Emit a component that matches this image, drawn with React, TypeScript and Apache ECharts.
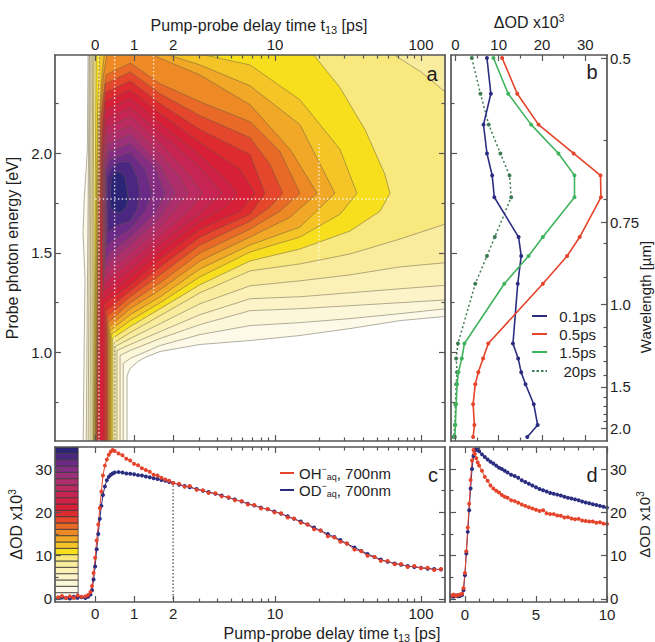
import React, { useEffect, useRef } from "react";
import * as echarts from "echarts";

const FONT = "'Liberation Sans', Arial, Helvetica, sans-serif";
const INK = "#1e1e1e";
const FRAME = "#555555";

// ---------- delay axis: linear up to 2 ps, logarithmic beyond ----------
const LIN_END = 2;
const UNITS_PER_DECADE = 3.744;
const tToU = (t: number) => (t <= LIN_END ? t : LIN_END + UNITS_PER_DECADE * Math.log10(t / LIN_END));
const DELAY_MIN = -1.03;
const DELAY_MAX = 146;
const delayLabelTimes = [0, 1, 2, 10, 100];
const delayMinorTimes = [3, 4, 5, 6, 7, 8, 9, 20, 30, 40, 50, 60, 70, 80, 90];

// ---------- energy / wavelength ----------
const E_MIN = 0.555;
const E_MAX = 2.495;
const HC = 1.23984; // eV*um
const energyLabels = [1.0, 1.5, 2.0];
const energyMinor = [0.75, 1.25, 1.75, 2.25];
const wavelengthLabels = [0.5, 0.75, 1.0, 1.5, 2.0];
const wavelengthMinor = [0.6, 0.7, 0.8, 0.9, 1.1, 1.2, 1.3, 1.4, 1.6, 1.7, 1.8, 1.9];

// ---------- ΔOD ticks ----------
const odLabels = [0, 10, 20, 30];
const odMinor = [5, 15, 25];
const dDelayLabels = [0, 5, 10];
const dDelayMinor = [1, 2, 3, 4, 6, 7, 8, 9];

// ---------- contour levels (ΔOD x10^3, band lower edges) & colours ----------
const colorbarLevels = [0, 1.46, 2.93, 4.39, 5.85, 7.31, 8.78, 10.24, 11.7, 13.16, 14.63, 16.09, 17.55, 19.01, 20.48, 21.94, 23.4, 24.86, 26.33, 27.79, 29.25, 30.71, 32.18, 33.64];
const BAND = 1.46;
const levelColors = [
  "#fffdf3", "#fefaea", "#fdf7da", "#fcf3c8", "#fbf0b5", "#faec9e", "#f9e87e", "#f8df1e",
  "#f5c427", "#f1a826", "#ed8a26", "#e96a27", "#e4472b", "#de2b30", "#d72038", "#cf2145",
  "#c62452", "#bb2a60", "#ae2e6c", "#9b2f78", "#852d82", "#6a2a86", "#4c2782", "#2c2476",
];

// contour outlines (delay ps, energy eV) for levels 1..23
const contourBands: number[][] = [
  [-0.31,0.5, -0.28,1.05, -0.26,1.37, -0.31,1.6, -0.28,1.77, -0.2,2.02, -0.18,2.55, 200,2.55, 200,1.19, 71.8,1.16, 32.6,1.12, 14.8,1.085, 6.74,1.06, 3.06,1.04, 1.67,1.005, 1.28,0.975, 1.1,0.955, 0.9,0.92, 0.82,0.885, 0.82,0.5],
  [-0.23,0.5, -0.18,1.77, -0.15,2.55, 200,2.55, 200,1.23, 71.8,1.195, 32.6,1.17, 14.8,1.15, 6.74,1.135, 3.06,1.09, 1.67,1.035, 0.9,0.97, 0.72,0.945, 0.72,0.5],
  [-0.18,0.5, -0.15,1.77, -0.13,2.55, 200,2.55, 200,1.27, 71.8,1.25, 32.6,1.235, 14.8,1.22, 6.74,1.21, 3.06,1.14, 1.67,1.07, 0.9,1.01, 0.64,0.985, 0.64,0.5],
  [-0.13,0.5, -0.115,1.77, -0.1,2.55, 200,2.55, 200,1.345, 71.8,1.32, 32.6,1.3, 14.8,1.28, 6.74,1.27, 3.06,1.19, 1.67,1.105, 0.9,1.04, 0.56,1.01, 0.56,0.5],
  [-0.08,0.5, -0.08,1.77, -0.06,2.55, 200,2.55, 200,1.46, 71.8,1.43, 32.6,1.39, 14.8,1.36, 6.74,1.335, 3.06,1.245, 1.67,1.145, 0.9,1.07, 0.51,1.03, 0.51,0.5],
  [-0.05,0.5, -0.05,1.77, -0.03,2.55, 64,2.5, 100,2.41, 146,2.31, 200,2.27, 200,1.645, 146,1.645, 71.8,1.57, 32.6,1.495, 14.8,1.445, 6.74,1.41, 3.06,1.3, 1.67,1.185, 0.9,1.1, 0.49,1.05, 0.49,0.5],
  [-0.04,0.5, 0,1.77, 0.03,2.55, 18.2,2.5, 27.9,2.33, 41.3,2.12, 56.6,1.895, 61.3,1.8, 52.4,1.71, 32.6,1.61, 14.8,1.52, 6.74,1.46, 3.06,1.34, 1.67,1.22, 0.9,1.13, 0.44,1.07, 0.44,0.5],
  [-0.03,0.5, 0.03,1.77, 0.06,2.2, 0.13,2.55, 3.06,2.5, 6.74,2.445, 14.8,2.27, 27.9,2.02, 36.4,1.8, 27.9,1.695, 14.8,1.58, 6.74,1.505, 3.06,1.38, 1.67,1.25, 0.9,1.16, 0.41,1.09, 0.41,0.5],
  [-0.013,0.5, 0.05,1.77, 0.09,2.17, 0.18,2.4, 0.26,2.55, 1.8,2.5, 3.06,2.445, 6.74,2.34, 14.8,2.145, 25.7,1.8, 14.8,1.63, 6.74,1.54, 3.06,1.42, 1.67,1.28, 0.9,1.19, 0.385,1.11, 0.385,0.5],
  [0,0.5, 0.08,1.77, 0.11,2.17, 0.22,2.4, 0.35,2.55, 1.41,2.5, 3.06,2.395, 6.74,2.245, 12.7,2.02, 19.4,1.8, 12.7,1.68, 6.74,1.58, 3.06,1.46, 1.67,1.315, 0.9,1.22, 0.36,1.13, 0.36,0.5],
  [0.013,0.5, 0.09,1.77, 0.13,2.17, 0.28,2.395, 0.9,2.455, 1.67,2.35, 3.06,2.26, 6.74,2.16, 10.8,2.01, 14.8,1.8, 10.8,1.71, 6.74,1.62, 3.06,1.5, 1.67,1.35, 0.9,1.25, 0.33,1.15, 0.33,0.5],
  [0.03,0.5, 0.1,1.77, 0.15,2.17, 0.26,2.35, 0.9,2.41, 1.67,2.3, 3.06,2.19, 6.74,2.08, 9.24,1.945, 11.3,1.8, 9.24,1.73, 6.74,1.66, 3.06,1.54, 1.67,1.39, 0.9,1.28, 0.31,1.18, 0.31,0.5],
  [0.05,0.5, 0.13,1.77, 0.18,2.12, 0.26,2.305, 0.9,2.365, 1.67,2.25, 3.06,2.12, 6.74,1.995, 8.53,1.8, 6.74,1.695, 3.06,1.58, 1.67,1.43, 0.9,1.31, 0.28,1.21, 0.28,0.5],
  [0.1,0.5, 0.15,1.77, 0.18,2.07, 0.25,2.26, 0.9,2.32, 1.67,2.2, 3.06,2.055, 5.75,1.92, 7.29,1.8, 5.75,1.71, 3.06,1.62, 1.67,1.47, 0.9,1.34, 0.23,1.245, 0.23,0.5],
  [0.2,1.27, 0.18,1.77, 0.18,2.02, 0.25,2.215, 0.9,2.275, 1.67,2.15, 3.06,1.99, 4.54,1.87, 5.48,1.8, 4.54,1.73, 3.06,1.66, 1.67,1.51, 0.9,1.38, 0.385,1.3],
  [0.21,1.31, 0.19,1.77, 0.2,2.0, 0.28,2.17, 0.9,2.23, 1.67,2.1, 3.06,1.93, 4.33,1.8, 3.06,1.7, 1.67,1.55, 0.9,1.42, 0.385,1.34],
  [0.22,1.34, 0.2,1.77, 0.21,1.98, 0.3,2.13, 0.9,2.185, 1.67,2.05, 2.61,1.885, 3.16,1.8, 2.61,1.72, 1.67,1.59, 0.9,1.46, 0.385,1.38],
  [0.24,1.38, 0.22,1.77, 0.23,1.96, 0.32,2.09, 0.9,2.14, 1.67,1.995, 2.23,1.88, 2.53,1.8, 2.07,1.72, 1.67,1.63, 0.9,1.5, 0.385,1.42],
  [0.25,1.42, 0.23,1.77, 0.24,1.94, 0.34,2.05, 0.9,2.095, 1.67,1.94, 2.07,1.8, 1.67,1.68, 0.9,1.54, 0.385,1.46],
  [0.27,1.47, 0.26,1.77, 0.26,1.92, 0.36,2.01, 0.9,2.05, 1.54,1.93, 1.8,1.8, 1.54,1.7, 0.9,1.58, 0.385,1.5],
  [0.29,1.53, 0.28,1.77, 0.28,1.9, 0.38,1.97, 0.9,2.005, 1.28,1.92, 1.46,1.8, 1.28,1.71, 0.9,1.62, 0.44,1.56],
  [0.33,1.6, 0.31,1.77, 0.31,1.88, 0.42,1.93, 0.64,1.96, 0.9,1.955, 1.08,1.88, 1.15,1.8, 1.08,1.72, 0.9,1.66, 0.51,1.635],
  [0.385,1.77, 0.41,1.87, 0.49,1.905, 0.64,1.91, 0.77,1.88, 0.82,1.82, 0.85,1.77, 0.8,1.73, 0.64,1.7, 0.46,1.71, 0.385,1.74],
];

// marked delays (ps) with the energy span where their guide is visible, and the 700 nm guide
const markedDelays = [0.1, 0.5, 1.5, 20];
const markedDelayLow = [0.555, 0.555, 1.3, 1.45];
const markedDelayHigh = [2.495, 2.495, 2.495, 2.06];
const markedEnergy = 1.771;
const markedEnergyEnd = 61;

// ---------- panel b: transient spectra ----------
const specEnergy = [2.48, 2.3, 2.145, 2.0, 1.89, 1.78, 1.58, 1.485, 1.345, 1.045, 0.97, 0.9, 0.84, 0.74, 0.635, 0.575];
const spec01ps = [7.3, 8.2, 6.5, 7.3, 8.5, 9.0, 14.6, 15.2, 14.4, 13.3, 14.5, 15.2, 16.2, 18.1, 19.0, 16.6];
const spec05ps = [10.8, 14.3, 19.2, 27.3, 33.5, 33.6, 28.7, 25.8, 20.2, 7.6, 6.4, 5.3, 4.6, 4.1, 4.4, 4.1];
const spec15ps = [8.8, 12.2, 17.5, 23.8, 27.5, 27.5, 20.2, 16.9, 11.3, 2.1, 1.5, 0.7, 0.4, 0.2, 0.0, -0.1];
const spec20ps = [3.8, 5.8, 7.7, 10.4, 12.5, 12.9, 9.1, 7.3, 4.6, 0.6, 0.2, 0.4, 0.2, 0.0, -0.1, -0.4];
const specNames = ["0.1ps", "0.5ps", "1.5ps", "20ps"];

// ---------- panel c: kinetics at 700 nm ----------
const cTimes = [-0.95,-0.85,-0.75,-0.65,-0.55,-0.45,-0.35,-0.25,-0.18,-0.12, -0.08,-0.04,0,0.04,0.08,0.12,0.16,0.2,0.25,0.3,0.35,0.4,0.45,0.5, 0.6,0.7,0.8,0.9,1.0,1.1,1.2,1.3,1.4,1.5,1.6,1.7,1.8,1.9,2.0, 2.2,2.4,2.6,2.9,3.2,3.5,3.9,4.3,4.8,5.3,5.9,6.5,7.2,8.0,8.9,9.9,11,12.2,13.5,15,16.7,18.5,20.5,23,25.5,28,31,35,39,43,48,53,59,66,73,81,90,100,111,123,137];
const cOH = [0.4,0.7,0.2,0.6,0.3,0.8,0.5,0.6,0.9,1.6, 3.0,6.0,9.5,13.5,17.2,21.0,24.8,28.5,30.8,32.2,33.3,34.0,34.4,34.2, 33.6,33.2,32.4,32.0,31.2,30.9,30.2,29.8,29.4,28.7,28.5,28.0,27.6,27.3,26.8, 26.6,25.9,26.1,25.2,25.1,24.5,24.4,23.7,23.5,22.8,22.6,21.8,21.7,20.9,20.8,20.0,19.8,18.8,18.6,17.6,17.2,16.1,15.8,14.5,14.2,13.2,12.8,11.4,11.0,10.0,9.7,8.8,8.8,8.0,8.1,7.4,7.6,7.1,7.2,6.7,6.9];
const cOD = [0.2,0.4,0.3,0.1,0.5,0.3,0.4,0.2,0.5,1.0, 2.0,4.5,7.5,11.5,15.0,18.5,21.5,24.0,26.0,27.4,28.2,28.7,29.0,29.2, 29.3,29.2,29.0,28.9,28.8,28.6,28.5,28.3,28.1,27.9,27.7,27.5,27.3,27.0,26.8, 26.4,26.1,25.8,25.4,25.0,24.7,24.3,23.9,23.4,23.0,22.5,22.0,21.6,21.1,20.7,20.2,19.7,19.1,18.5,17.9,17.2,16.5,15.8,15.0,14.3,13.6,12.8,11.9,11.1,10.4,9.7,9.1,8.6,8.2,7.9,7.6,7.4,7.2,7.0,6.9,6.8];
const markedDelayC = 2;
const markedValueC = 26.3;

// ---------- panel d: early kinetics ----------
const dTimes = [-0.95,-0.8,-0.65,-0.5,-0.35,-0.2,-0.1,0,0.1,0.2,0.3,0.4,0.5,0.6,0.7,0.8,0.9,1.0, 1.2,1.4,1.6,1.8,2.0,2.2,2.4,2.6,2.8,3.0, 3.25,3.5,3.75,4.0,4.25,4.5,4.75,5.0,5.25,5.5,5.75,6.0,6.25,6.5,6.75,7.0,7.25,7.5,7.75,8.0,8.25,8.5,8.75,9.0,9.25,9.5,9.75,10.0];
const dOH = [0.8,1.0,0.7,0.9,1.0,1.2,2.5,6.0,11.0,16.5,22.0,27.5,32.0,34.4,33.5,32.5,31.5,30.8, 29.6,28.2,27.3,26.2,25.5,25.0,24.6,24.0,23.6,23.4, 22.8,22.6,22.2,21.8,21.5,21.2,20.9,20.6,20.3,20.5,19.8,19.6,19.6,19.3,19.2,18.8,18.9,18.6,18.4,18.5,18.1,18.0,17.9,17.9,17.6,17.7,17.4,17.3];
const dOD = [0.6,0.5,0.8,0.6,0.7,0.9,2.0,5.5,10.5,15.5,20.5,25.5,30.0,33.0,34.4,34.6,34.4,34.1, 33.4,32.8,32.2,31.7,31.3,30.8,30.3,30.0,29.6,29.2, 28.7,28.4,28.0,27.4,27.0,26.6,26.2,25.8,25.4,25.1,24.8,24.5,24.3,24.1,23.9,23.6,23.4,23.2,23.0,22.8,22.5,22.3,22.1,21.9,21.7,21.5,21.3,21.1];

const RED = "#e5432a";
const NAVY = "#2b2d80";
const GREEN = "#3fb35c";
const DKGREEN = "#3d7c52";
const specColors = [NAVY, RED, GREEN, DKGREEN];

// ---------- layout ----------
const G_A = { left: 55, top: 55, width: 390, height: 386 };
const G_B = { left: 451, top: 55, width: 156, height: 386 };
const G_C = { left: 55, top: 447, width: 390, height: 155 };
const G_D = { left: 450, top: 447, width: 157, height: 155 };

const U_MIN = tToU(DELAY_MIN);
const U_MAX = tToU(DELAY_MAX);
const delayMajorU = delayLabelTimes.map(tToU);
const delayMinorU = delayMinorTimes.map(tToU);
const delayFmt = (v: number) => {
  const t = delayLabelTimes.find((x) => Math.abs(tToU(x) - v) < 1e-6);
  return t === undefined ? "" : String(t);
};
const wlMajorE = wavelengthLabels.map((l) => HC / l);
const wlMinorE = wavelengthMinor.map((l) => HC / l);
const wlFmt = (v: number) => {
  const lam = HC / v;
  const l = wavelengthLabels.find((x) => Math.abs(x - lam) < 1e-3);
  if (l === undefined) return "";
  return l === 0.75 ? "0.75" : l.toFixed(1);
};

const supRich = {
  p: { fontSize: 10, fontFamily: FONT, color: INK, verticalAlign: "top", lineHeight: 18 },
  s: { fontSize: 11, fontFamily: FONT, color: INK, verticalAlign: "bottom", lineHeight: 20 },
};

type AxOpt = {
  grid: number; pos: string; min: number; max: number; ticks: number[]; len: number;
  labels?: number[]; fmt?: (v: number) => string; line?: boolean;
  name?: string; gap?: number; margin?: number; nameSize?: number;
};
function axis(o: AxOpt) {
  const vertical = o.pos === "left" || o.pos === "right";
  return {
    type: "value",
    gridIndex: o.grid,
    position: o.pos,
    min: o.min,
    max: o.max,
    z: 5,
    splitLine: { show: false },
    axisLine: { show: o.line !== false, onZero: false, lineStyle: { color: FRAME, width: 1.7 } },
    axisTick: { show: true, inside: true, length: o.len, customValues: o.ticks, lineStyle: { color: FRAME, width: 1.2 } },
    axisLabel: o.labels
      ? { show: true, customValues: o.labels, formatter: o.fmt, color: INK, fontSize: 15, fontFamily: FONT, margin: o.margin ?? 3 }
      : { show: false },
    name: o.name,
    nameLocation: "middle",
    nameGap: o.gap,
    nameRotate: vertical ? 90 : 0,
    nameTextStyle: { fontSize: o.nameSize ?? 16, fontFamily: FONT, color: INK, rich: supRich },
  };
}

function buildOption() {
  const xAxis = [
    axis({ grid: 0, pos: "top", min: U_MIN, max: U_MAX, ticks: delayMajorU, len: 6, labels: delayMajorU, fmt: delayFmt }),
    axis({ grid: 0, pos: "bottom", min: U_MIN, max: U_MAX, ticks: delayMajorU, len: 6 }),
    axis({ grid: 1, pos: "top", min: -1, max: 35, ticks: odLabels, len: 6, labels: odLabels, fmt: (v) => String(v), name: "ΔOD x10{p|3}", gap: 24 }),
    axis({ grid: 1, pos: "bottom", min: -1, max: 35, ticks: odLabels, len: 6 }),
    axis({ grid: 2, pos: "top", min: U_MIN, max: U_MAX, ticks: delayMajorU, len: 6 }),
    axis({ grid: 2, pos: "bottom", min: U_MIN, max: U_MAX, ticks: delayMajorU, len: 6, labels: delayMajorU, fmt: delayFmt, margin: 4 }),
    axis({ grid: 3, pos: "top", min: -1.05, max: 10, ticks: dDelayLabels, len: 6 }),
    axis({ grid: 3, pos: "bottom", min: -1.05, max: 10, ticks: dDelayLabels, len: 6, labels: dDelayLabels, fmt: (v) => String(v), margin: 5 }),
    axis({ grid: 4, pos: "top", min: U_MIN, max: U_MAX, ticks: delayMinorU, len: 3.5, line: false }),
    axis({ grid: 4, pos: "bottom", min: U_MIN, max: U_MAX, ticks: delayMinorU, len: 3.5, line: false }),
    axis({ grid: 5, pos: "top", min: -1, max: 35, ticks: odMinor, len: 3.5, line: false }),
    axis({ grid: 5, pos: "bottom", min: -1, max: 35, ticks: odMinor, len: 3.5, line: false }),
    axis({ grid: 6, pos: "top", min: U_MIN, max: U_MAX, ticks: delayMinorU, len: 3.5, line: false }),
    axis({ grid: 6, pos: "bottom", min: U_MIN, max: U_MAX, ticks: delayMinorU, len: 3.5, line: false }),
    axis({ grid: 7, pos: "top", min: -1.05, max: 10, ticks: dDelayMinor, len: 3.5, line: false }),
    axis({ grid: 7, pos: "bottom", min: -1.05, max: 10, ticks: dDelayMinor, len: 3.5, line: false }),
  ];
  const yAxis = [
    axis({ grid: 0, pos: "left", min: E_MIN, max: E_MAX, ticks: energyLabels, len: 6, labels: energyLabels, fmt: (v) => v.toFixed(1), name: "Probe photon energy [eV]", gap: 24 }),
    axis({ grid: 0, pos: "right", min: E_MIN, max: E_MAX, ticks: energyLabels, len: 6 }),
    axis({ grid: 1, pos: "left", min: E_MIN, max: E_MAX, ticks: energyLabels, len: 6 }),
    axis({ grid: 1, pos: "right", min: E_MIN, max: E_MAX, ticks: wlMajorE, len: 6, labels: wlMajorE, fmt: wlFmt }),
    axis({ grid: 2, pos: "left", min: -0.7, max: 35.1, ticks: odLabels, len: 6, labels: odLabels, fmt: (v) => String(v), name: "ΔOD x10{p|3}", gap: 24 }),
    axis({ grid: 2, pos: "right", min: -0.7, max: 35.1, ticks: odLabels, len: 6 }),
    axis({ grid: 3, pos: "left", min: -0.7, max: 35.1, ticks: odLabels, len: 6 }),
    axis({ grid: 3, pos: "right", min: -0.7, max: 35.1, ticks: odLabels, len: 6, labels: odLabels, fmt: (v) => String(v), name: "ΔOD x10{p|3}", gap: 28, nameSize: 15 }),
    axis({ grid: 4, pos: "left", min: E_MIN, max: E_MAX, ticks: energyMinor, len: 3.5, line: false }),
    axis({ grid: 4, pos: "right", min: E_MIN, max: E_MAX, ticks: energyMinor, len: 3.5, line: false }),
    axis({ grid: 5, pos: "left", min: E_MIN, max: E_MAX, ticks: energyMinor, len: 3.5, line: false }),
    axis({ grid: 5, pos: "right", min: E_MIN, max: E_MAX, ticks: wlMinorE, len: 3.5, line: false }),
    axis({ grid: 6, pos: "left", min: -0.7, max: 35.1, ticks: odMinor, len: 3.5, line: false }),
    axis({ grid: 6, pos: "right", min: -0.7, max: 35.1, ticks: odMinor, len: 3.5, line: false }),
    axis({ grid: 7, pos: "left", min: -0.7, max: 35.1, ticks: odMinor, len: 3.5, line: false }),
    axis({ grid: 7, pos: "right", min: -0.7, max: 35.1, ticks: odMinor, len: 3.5, line: false }),
  ];

  const grid = [G_A, G_B, G_C, G_D, G_A, G_B, G_C, G_D].map((g) => ({ ...g, containLabel: false, outerBoundsMode: "none", show: false }));

  const dotted = [1.4, 2.4];
  const guideStyle = { color: "rgba(255,255,255,0.85)", width: 1.4, type: dotted };
  const specData = [spec01ps, spec05ps, spec15ps, spec20ps];
  const series: any[] = [
    {
      type: "custom",
      name: "contours",
      xAxisIndex: 0,
      yAxisIndex: 0,
      clip: true,
      silent: true,
      z: 1,
      data: contourBands.map((_, i) => [0, 1.5, i]),
      renderItem: (_p: any, api: any) => {
        const i = api.value(2) as number;
        const pts = contourBands[i];
        const points: number[][] = [];
        for (let k = 0; k < pts.length; k += 2) points.push(api.coord([tToU(pts[k]), pts[k + 1]]));
        return {
          type: "polygon",
          shape: { points },
          style: { fill: levelColors[i + 1], stroke: "rgba(95,88,70,0.6)", lineWidth: 0.8 },
        };
      },
    },
    ...markedDelays.map((t, i) => ({
      type: "line", xAxisIndex: 0, yAxisIndex: 0, symbol: "none", silent: true, z: 3,
      data: [[tToU(t), markedDelayLow[i]], [tToU(t), markedDelayHigh[i]]],
      lineStyle: guideStyle,
    })),
    {
      type: "line", xAxisIndex: 0, yAxisIndex: 0, symbol: "none", silent: true, z: 3,
      data: [[tToU(0), markedEnergy], [tToU(markedEnergyEnd), markedEnergy]],
      lineStyle: guideStyle,
    },
    // panel b (drawn 20ps, 0.1ps, 1.5ps, 0.5ps)
    ...[3, 0, 2, 1].map((k) => ({
      name: specNames[k], type: "line", xAxisIndex: 2, yAxisIndex: 2, color: specColors[k],
      symbol: "circle", symbolSize: 4,
      data: specData[k].map((v, i) => [v, specEnergy[i]]),
      lineStyle: k === 3 ? { width: 1.5, type: [2, 2.5] } : { width: 1.6 },
    })),
    // panel c colour bar
    {
      type: "custom", xAxisIndex: 5, yAxisIndex: 4, clip: true, silent: true, z: 3,
      data: colorbarLevels.map((lv, i) => [-1, lv, i]),
      renderItem: (_p: any, api: any) => {
        const i = api.value(2) as number;
        const lo = colorbarLevels[i];
        const a = api.coord([tToU(-1.05), lo + BAND]);
        const b = api.coord([tToU(-0.436), lo]);
        return {
          type: "rect",
          shape: { x: a[0], y: a[1], width: b[0] - a[0], height: b[1] - a[1] },
          style: { fill: levelColors[i], stroke: "#3a3a3a", lineWidth: 0.8 },
        };
      },
    },
    {
      type: "line", xAxisIndex: 5, yAxisIndex: 4, symbol: "none", silent: true, z: 2,
      data: [[tToU(markedDelayC), 0], [tToU(markedDelayC), markedValueC]],
      lineStyle: { color: "#444", width: 1.2, type: [1.5, 2] },
    },
    {
      name: "OD", type: "line", xAxisIndex: 5, yAxisIndex: 4, color: NAVY, symbol: "circle", symbolSize: 4,
      data: cTimes.map((t, i) => [tToU(t), cOD[i]]), lineStyle: { width: 1 },
    },
    {
      name: "OH", type: "line", xAxisIndex: 5, yAxisIndex: 4, color: RED, symbol: "circle", symbolSize: 4,
      data: cTimes.map((t, i) => [tToU(t), cOH[i]]), lineStyle: { width: 1 },
    },
    // panel d
    {
      name: "OD early", type: "line", xAxisIndex: 7, yAxisIndex: 6, color: NAVY, symbol: "circle", symbolSize: 4,
      data: dTimes.map((t, i) => [t, dOD[i]]), lineStyle: { width: 1 },
    },
    {
      name: "OH early", type: "line", xAxisIndex: 7, yAxisIndex: 6, color: RED, symbol: "circle", symbolSize: 4,
      data: dTimes.map((t, i) => [t, dOH[i]]), lineStyle: { width: 1 },
    },
  ];

  const letter = (text: string, x: number, y: number) => ({
    type: "text", x, y, z: 100,
    style: { text, fontSize: 20, fontFamily: FONT, fill: INK, align: "center", verticalAlign: "middle" },
  });
  const title = (x: number, y: number) => ({
    type: "text", x, y, z: 100,
    style: {
      text: "Pump-probe delay time t{s|13} [ps]",
      fontSize: 16, fontFamily: FONT, fill: INK, align: "center", verticalAlign: "middle",
      rich: { s: { fontSize: 11, fontFamily: FONT, fill: INK, verticalAlign: "bottom", lineHeight: 20 } },
    },
  });

  // legends drawn as line keys + texts
  const bKeyY = [316, 334, 352, 371];
  const bLegend = specNames.flatMap((name, k) => [
    {
      type: "line", z: 100,
      shape: { x1: 532, y1: bKeyY[k], x2: 547, y2: bKeyY[k] },
      style: { stroke: specColors[k], lineWidth: 2, lineDash: k === 3 ? [2.5, 2] : null },
    },
    {
      type: "text", x: 596, y: bKeyY[k], z: 100,
      style: { text: name, fontSize: 15, fontFamily: FONT, fill: INK, align: "right", verticalAlign: "middle" },
    },
  ]);
  const cKeyY = [473, 490];
  const cNames = ["OH", "OD"];
  const cColors = [RED, NAVY];
  const cLegend = cNames.flatMap((name, k) => [
    {
      type: "line", z: 100,
      shape: { x1: 280, y1: cKeyY[k], x2: 294, y2: cKeyY[k] },
      style: { stroke: cColors[k], lineWidth: 2 },
    },
    {
      type: "text", x: 299, y: cKeyY[k], z: 100,
      style: {
        text: `${name}{sp|−}{sb|aq}, 700nm`,
        fontSize: 15, fontFamily: FONT, fill: INK, align: "left", verticalAlign: "middle",
        rich: {
          sp: { fontSize: 9, fontFamily: FONT, fill: INK, verticalAlign: "top", lineHeight: 17 },
          sb: { fontSize: 9, fontFamily: FONT, fill: INK, verticalAlign: "bottom", lineHeight: 17 },
        },
      },
    },
  ]);
  // wavelength axis title sits lower than the axis middle, clear of the 0.75 label
  const wavelengthTitle = {
    type: "text", x: 645, y: 297, rotation: Math.PI / 2, z: 100,
    style: { text: "Wavelength [µm]", fontSize: 15, fontFamily: FONT, fill: INK, align: "center", verticalAlign: "middle" },
  };

  return {
    animation: false,
    backgroundColor: "#ffffff",
    grid,
    xAxis,
    yAxis,
    series,
    graphic: [
      title(259, 25),
      title(332, 633),
      letter("a", 432, 74),
      letter("b", 592, 72),
      letter("c", 433, 475),
      letter("d", 592, 475),
      wavelengthTitle,
      ...bLegend,
      ...cLegend,
    ],
  };
}

export default function App() {
  const ref = useRef<HTMLDivElement>(null);
  useEffect(() => {
    const chart = echarts.init(ref.current!, null, { renderer: "svg" });
    chart.setOption(buildOption() as any);
    return () => chart.dispose();
  }, []);
  return (
    <div
      ref={ref}
      style={{ position: "absolute", left: 0, top: 0, width: 655, height: 642, background: "#fff" }}
    />
  );
}
